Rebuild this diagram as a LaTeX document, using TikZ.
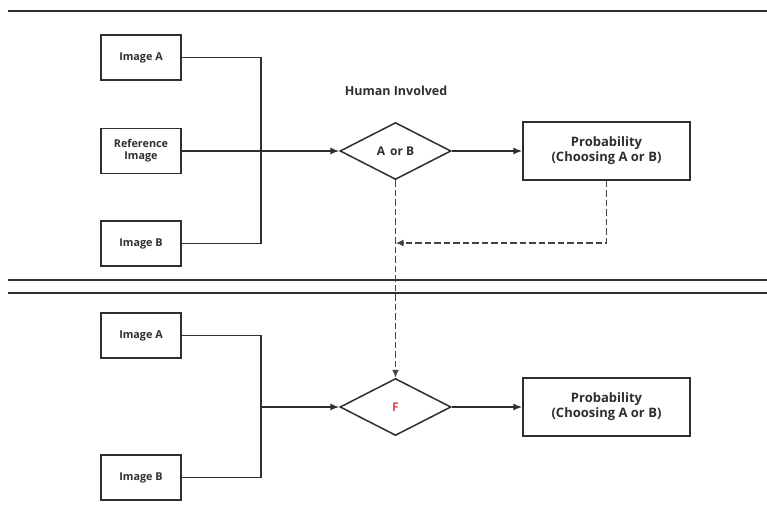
\documentclass[tikz,border=0pt]{standalone}
\usepackage{fontspec}
\setmainfont{Open Sans}
\usetikzlibrary{shapes.geometric,arrows.meta}
\definecolor{ink}{HTML}{2E2E2E}
\definecolor{dink}{HTML}{444444}
\definecolor{fred}{HTML}{E8474C}
\begin{document}
\begin{tikzpicture}[x=1pt,y=-1pt,
  line width=1.5pt, draw=ink,
  imgbox/.style={draw=ink,line width=1.5pt,minimum width=80pt,minimum height=45pt,inner sep=1pt,align=center,font=\fontsize{10.8}{12}\selectfont\bfseries,text=ink},
  probbox/.style={draw=ink,line width=1.5pt,minimum width=167pt,minimum height=58pt,align=center,font=\fontsize{13}{15}\selectfont\bfseries,text=ink},
  choice/.style={draw=ink,line width=1.5pt,diamond,minimum width=111pt,minimum height=57pt,inner sep=0pt,font=\fontsize{12}{14}\selectfont\bfseries,text=ink},
  sep/.style={draw=ink,line width=1.6pt},
  conn/.style={draw=ink,line width=1.5pt},
  arr/.style={conn,-{Latex[length=9pt,width=7pt]}},
  darr/.style={draw=dink,line width=1.6pt,dash pattern=on 6.5pt off 3pt,-{Latex[length=8pt,width=7pt]}}]
\useasboundingbox (0,0) rectangle (767,513);
\fill[white] (0,0) rectangle (767,513);
% separators
\coordinate (t1) at (8,11); \coordinate (t2) at (767,11);
\coordinate (s1) at (8,280); \coordinate (s2) at (767,280);
\coordinate (s3) at (8,293); \coordinate (s4) at (767,293);
\draw[sep] (t1) -- (t2);
\draw[sep] (s1) -- (s2);
\draw[sep] (s3) -- (s4);
% top part
\node[imgbox] (ia) at (141,57.5) {Image A};
\node[imgbox] (ri) at (141,151) {Reference\\Image};
\node[imgbox] (ib) at (141,243.5) {Image B};
\node[choice] (d1) at (395.5,151) {A\, or B};
\node[probbox] (p1) at (606.5,151) {Probability\\(Choosing A or B)};
\node[font=\fontsize{12.5}{14}\selectfont\bfseries,text=ink] (hi) at (396,91) {Human Involved};
\coordinate (j1) at (261,151);
\draw[conn] (ia.east) -| (j1) |- (ib.east);
\draw[arr] (ri.east) -- (d1.west);
\draw[arr] (d1.east) -- (p1.west);
% bottom part
\node[imgbox] (ia2) at (141,335.5) {Image A};
\node[imgbox] (ib2) at (141,477.5) {Image B};
\node[choice] (d2) at (395.5,407) {\textcolor{fred}{F}};
\node[probbox] (p2) at (606.5,407) {Probability\\(Choosing A or B)};
\coordinate (j2) at (261,407);
\draw[conn] (ia2.east) -| (j2) |- (ib2.east);
\draw[arr] (j2) -- (d2.west);
\draw[arr] (d2.east) -- (p2.west);
% dashed feedback
\coordinate (fb) at (p1.south |- 0,243);
\coordinate (fbend) at (d1.south |- 0,243);
\draw[darr] (d1.south) -- (d2.north);
\draw[darr] (p1.south) -- (fb) -- (fbend);
\end{tikzpicture}
\end{document}
